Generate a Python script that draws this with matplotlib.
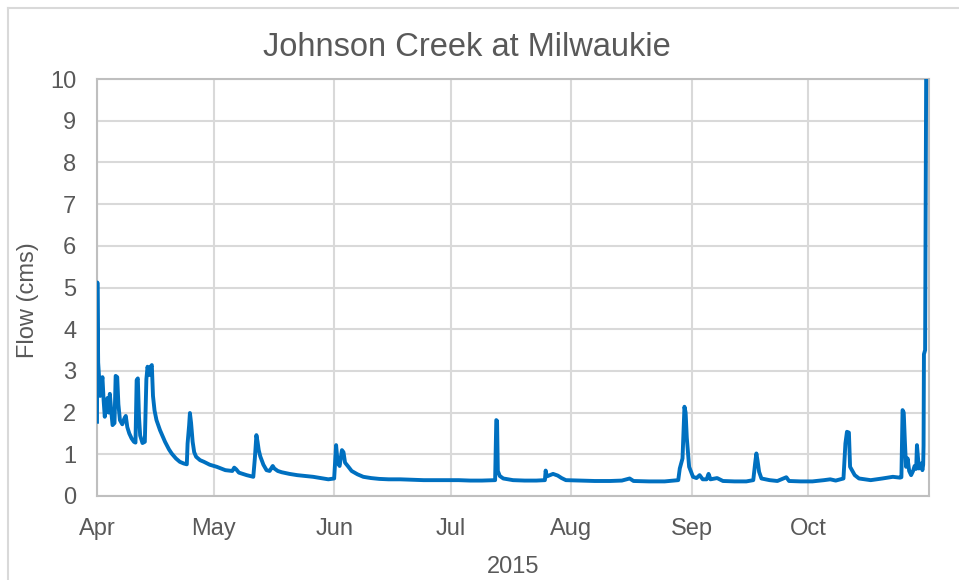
import matplotlib
matplotlib.use("Agg")
import matplotlib.pyplot as plt
import matplotlib.dates as mdates
from matplotlib.lines import Line2D
import numpy as np
import pandas as pd

# Days elapsed since 2015-04-01 00:00 and flow (cms)
days = [0.0, 0.1, 0.3, 0.5, 0.8, 1.0, 1.4, 1.7, 2.0, 2.4, 2.7, 3.0, 3.3, 3.7, 4.0, 4.5,
        4.8, 5.2, 5.5, 5.9, 6.5, 7.0, 7.4, 7.8, 8.3, 8.9, 9.5, 9.9, 10.2, 10.5, 10.8,
        11.1, 11.7, 12.3, 12.7, 13.0, 13.4, 13.8, 14.1, 14.4, 14.8, 15.3, 16.2, 17.5,
        18.5, 19.2, 20.3, 21.3, 22.3, 23.1, 23.3, 23.7, 23.9, 24.2, 24.6, 25.0, 25.5,
        26.5, 27.5, 29.0, 30.8, 33.0, 34.8, 35.3, 35.8, 36.5, 38.5, 40.2, 40.6, 41.0,
        41.3, 41.6, 42.0, 42.8, 43.6, 44.4, 45.2, 45.6, 46.5, 47.5, 49.5, 51.5, 53.5,
        55.6, 57.5, 59.5, 61.0, 61.5, 61.9, 62.4, 63.0, 63.4, 63.8, 64.5, 65.5, 67.0,
        68.5, 70.5, 72.6, 75.0, 78.0, 81.0, 84.0, 87.0, 90.0, 93.0, 96.0, 99.0, 102.4,
        102.7, 102.9, 103.1, 103.6, 104.5, 107.0, 110.0, 113.0, 115.2, 115.4, 115.7,
        116.5, 117.3, 118.5, 119.5, 120.6, 124.0, 128.0, 132.0, 135.0, 137.0, 138.0,
        142.0, 146.0, 149.5, 149.9, 150.6, 151.1, 151.4, 151.7, 152.3, 153.3, 154.2,
        155.0, 155.8, 156.8, 157.3, 157.8, 159.5, 161.0, 164.0, 167.0, 168.8, 169.3,
        169.6, 169.9, 170.3, 170.9, 173.0, 175.0, 177.3, 178.0, 181.0, 184.0, 187.0,
        188.6, 190.0, 192.0, 192.5, 192.9, 193.4, 193.7, 194.9, 196.0, 199.0, 202.0,
        204.7, 206.5, 206.9, 207.2, 207.5, 207.8, 208.1, 208.5, 208.9, 209.4, 209.9,
        210.3, 210.7, 210.9, 211.2, 211.4, 212.0, 212.3, 212.5, 212.6, 212.7, 213.0,
        213.3, 213.99]
flow = [1.78, 5.12, 3.2, 2.9, 2.4, 2.6, 2.85, 2.3, 1.9, 2.2, 2.35, 2.0, 2.45, 2.0, 1.7, 1.75,
        2.88, 2.85, 2.2, 1.82, 1.72, 1.85, 1.92, 1.65, 1.5, 1.38, 1.3, 1.28, 2.78, 2.82, 1.9,
        1.45, 1.27, 1.3, 2.8, 3.1, 2.9, 3.1, 3.14, 2.4, 2.05, 1.82, 1.58, 1.3,
        1.12, 1.02, 0.9, 0.82, 0.78, 0.76, 1.26, 1.7, 1.99, 1.75, 1.3, 1.05, 0.94,
        0.86, 0.82, 0.75, 0.70, 0.62, 0.60, 0.68, 0.64, 0.56, 0.50, 0.46, 0.9, 1.46,
        1.3, 1.1, 0.95, 0.75, 0.62, 0.60, 0.72, 0.66, 0.60, 0.57, 0.53, 0.50, 0.48,
        0.46, 0.43, 0.40, 0.42, 1.22, 0.8, 0.72, 1.1, 1.05, 0.8, 0.72, 0.6, 0.52,
        0.46, 0.43, 0.41, 0.40, 0.40, 0.39, 0.38, 0.38, 0.38, 0.38, 0.37, 0.37, 0.38,
        1.82, 1.8, 0.6, 0.48, 0.42, 0.38, 0.37, 0.37, 0.38, 0.61, 0.47,
        0.50, 0.53, 0.49, 0.43, 0.38, 0.37, 0.36, 0.36, 0.37, 0.42, 0.36,
        0.35, 0.35, 0.38, 0.66, 0.9, 2.14, 2.0, 1.4, 0.70, 0.46, 0.43,
        0.50, 0.40, 0.40, 0.53, 0.40, 0.43, 0.36, 0.35, 0.35, 0.38, 0.8,
        1.02, 0.85, 0.58, 0.42, 0.38, 0.36, 0.45, 0.36, 0.35, 0.35, 0.38,
        0.40, 0.37, 0.42, 1.26, 1.54, 1.52, 0.70, 0.50, 0.42, 0.38, 0.42,
        0.46, 0.44, 0.45, 2.06, 2.0, 1.3, 0.7, 0.9, 0.6, 0.5, 0.6,
        0.72, 0.65, 1.22, 0.9, 0.66, 0.78, 0.62, 0.75, 1.2, 3.4, 3.5,
        10.8, 11.0]

title = "Johnson Creek at Milwaukie"
y_label = "Flow (cms)"
x_label = "2015"
y_ticks = list(range(0, 11))

start = pd.Timestamp("2015-04-01")
end = pd.Timestamp("2015-11-01")
times = start + pd.to_timedelta(days, unit="D")

FONT = ["Liberation Sans", "DejaVu Sans"]
TXT = "#595959"
GRID = "#d9d9d9"

fig = plt.figure(figsize=(9.59, 5.80), dpi=100)
ax = fig.add_axes([97 / 959, 1 - 496 / 580, (929 - 97) / 959, (496 - 79) / 580])

ax.plot(times, flow, color="#0070C0", lw=2.8, solid_joinstyle="round", zorder=3)

ax.set_xlim(start, end)
ax.set_ylim(0, 10)
ax.set_yticks(y_ticks)
ax.xaxis.set_major_locator(mdates.MonthLocator(bymonth=range(4, 11)))
ax.xaxis.set_major_formatter(mdates.DateFormatter("%b"))

ax.grid(True, color=GRID, lw=1.5, zorder=0)
ax.set_axisbelow(True)
for s in ax.spines.values():
    s.set_color("#bfbfbf")
    s.set_linewidth(1.5)

ax.tick_params(axis="both", length=0, labelsize=17, labelcolor=TXT)
ax.tick_params(axis="y", pad=15)
ax.tick_params(axis="x", pad=16)
for lab in ax.get_xticklabels() + ax.get_yticklabels():
    lab.set_family(FONT)

fig.text(467 / 959, 1 - 48 / 580, title, ha="center", va="center",
         fontsize=23.5, color=TXT, family=FONT)
fig.text(28 / 959, 1 - 300 / 580, y_label, ha="center", va="center", rotation=90,
         fontsize=17, color=TXT, family=FONT)
fig.text(513 / 959, 1 - 567 / 580, x_label, ha="center", va="center",
         fontsize=17, color=TXT, family=FONT)

# outer chart border (top and left visible)
fig.add_artist(Line2D([8 / 959, 1.0], [1 - 8 / 580, 1 - 8 / 580], transform=fig.transFigure,
                      color=GRID, lw=1.5))
fig.add_artist(Line2D([8 / 959, 8 / 959], [0.0, 1 - 8 / 580], transform=fig.transFigure,
                      color=GRID, lw=1.5))

fig.savefig("out.png", dpi=100, facecolor="white")
